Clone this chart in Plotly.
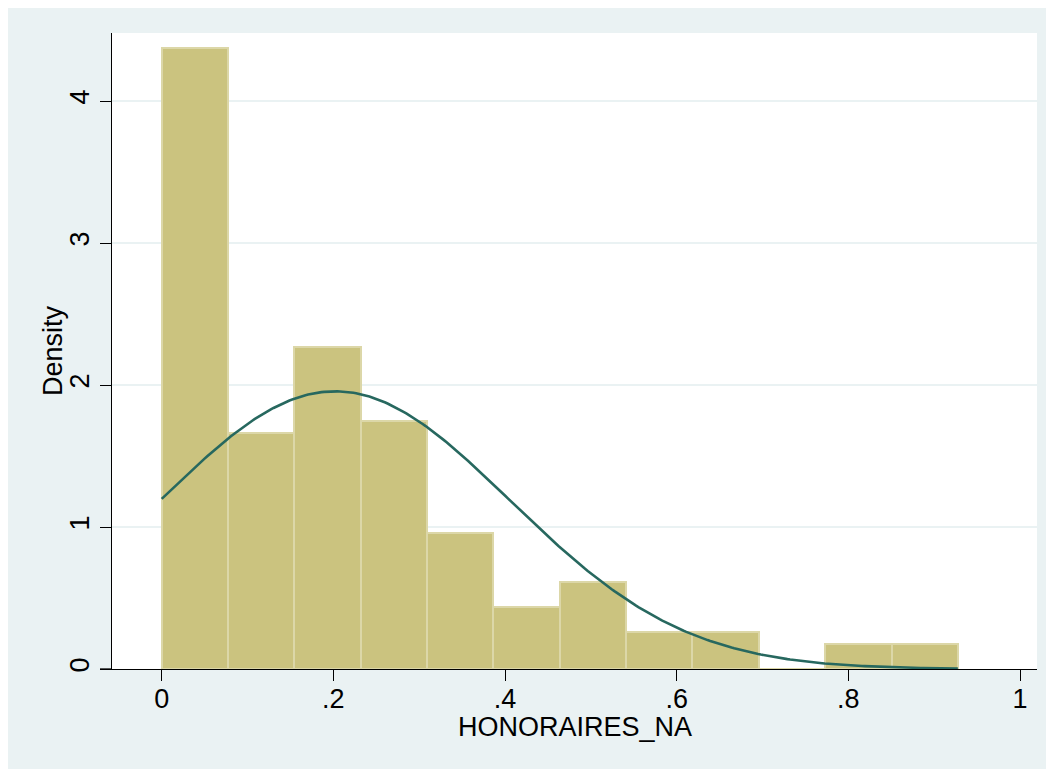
import numpy as np
import plotly.graph_objects as go

# ---- data ----
bin_start = 0.0
bin_width = 0.0773
densities = [4.37, 1.66, 2.27, 1.75, 0.96, 0.44, 0.61, 0.26, 0.26, 0.0, 0.175, 0.175]
norm_mean = 0.202
norm_sd = 0.204
x_ticks = [0, 0.2, 0.4, 0.6, 0.8, 1.0]
x_ticklabels = ["0", ".2", ".4", ".6", ".8", "1"]
y_ticks = [0, 1, 2, 3, 4]
y_ticklabels = ["0", "1", "2", "3", "4"]
x_title = "HONORAIRES_NA"
y_title = "Density"

# ---- derived ----
n_bins = len(densities)
left_edges = bin_start + bin_width * np.arange(n_bins)
centers = left_edges + bin_width / 2
x_max = bin_start + bin_width * n_bins
xc = np.linspace(bin_start, x_max, 300)
yc = np.exp(-0.5 * ((xc - norm_mean) / norm_sd) ** 2) / (norm_sd * np.sqrt(2 * np.pi))

BG = "#EAF2F3"
FONT = "Liberation Sans, Arial, Helvetica, sans-serif"

fig = go.Figure()
fig.add_trace(go.Bar(
    x=centers, y=densities, width=bin_width,
    marker=dict(color="#CBC37F", line=dict(color="#DCD7A8", width=2)),
    hoverinfo="skip", showlegend=False,
))
fig.add_trace(go.Scatter(
    x=xc, y=yc, mode="lines",
    line=dict(color="#27685F", width=2.6),
    hoverinfo="skip", showlegend=False,
))

W, H = 1054, 769
L, R, T, B = 104, 25, 25, 108
pw = W - L - R
ph = H - T - B

fig.update_layout(
    width=W, height=H,
    margin=dict(l=L, r=R, t=T, b=B, pad=0),
    paper_bgcolor=BG, plot_bgcolor="white",
    font=dict(family=FONT, size=27, color="black"),
    bargap=0,
    xaxis=dict(
        range=[-0.0579, 1.0198], tickvals=x_ticks, ticktext=x_ticklabels,
        showgrid=False, zeroline=False, showline=True, linecolor="black", linewidth=1.3,
        ticks="outside", ticklen=11, tickwidth=1.3, tickcolor="black",
        tickfont=dict(size=27), ticklabelstandoff=-6,
    ),
    yaxis=dict(
        range=[0, 4.479], tickvals=y_ticks, ticktext=y_ticklabels, tickangle=-90,
        showgrid=True, gridcolor=BG, gridwidth=2, zeroline=False,
        showline=True, linecolor="black", linewidth=1.3,
        ticks="outside", ticklen=11, tickwidth=1.3, tickcolor="black",
        tickfont=dict(size=27),
    ),
    annotations=[
        dict(text=x_title, xref="paper", yref="paper", x=0.5, y=0,
             xanchor="center", yanchor="middle", yshift=-58, showarrow=False,
             font=dict(size=27)),
        dict(text=y_title, xref="paper", yref="paper", x=0, y=0.5,
             xanchor="center", yanchor="middle", xshift=-59, textangle=-90,
             showarrow=False, font=dict(size=27)),
    ],
    shapes=[
        # x-axis line extends slightly left of the y-axis
        dict(type="line", xref="paper", yref="paper", x0=-12 / pw, x1=0, y0=0, y1=0,
             line=dict(color="black", width=1.3)),
    ],
)

fig.write_html("out.html")
